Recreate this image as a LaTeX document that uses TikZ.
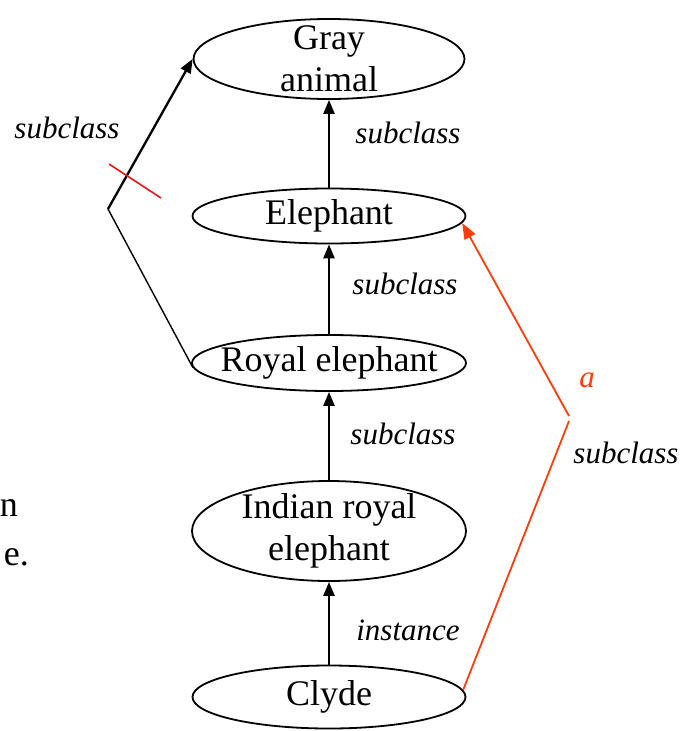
\documentclass[tikz,border=0pt]{standalone}
\usepackage{fontspec}
\setmainfont{Liberation Serif}
\usetikzlibrary{shapes.geometric,arrows.meta}
\definecolor{linkred}{RGB}{255,60,10}
\definecolor{cutred}{RGB}{235,20,20}
\begin{document}
\begin{tikzpicture}[x=1pt,y=-1pt,
  concept/.style={ellipse,draw,line width=1.8pt,inner sep=0pt},
  ctext/.style={align=center,inner sep=0pt,font=\fontsize{36}{42}\selectfont},
  rel/.style={line width=2.3pt,-{Triangle[length=14pt,width=11pt]}},
  redrel/.style={linkred,line width=1.8pt},
  lab/.style={inner sep=0pt,font=\fontsize{31}{36}\selectfont\itshape},
  bodytext/.style={inner sep=0pt,font=\fontsize{36}{42}\selectfont}]
\useasboundingbox (0,0) rectangle (681,731);
\clip (0,0) rectangle (681,731);

% concept ellipses
\node[concept,minimum width=271pt,minimum height=80pt]  (gray)   at (329,59)  {};
\node[concept,minimum width=273pt,minimum height=55pt]  (eleph)  at (329,216) {};
\node[concept,minimum width=274pt,minimum height=56pt]  (royal)  at (329,363) {};
\node[concept,minimum width=274pt,minimum height=100pt] (indian) at (329,531) {};
\node[concept,minimum width=273pt,minimum height=63pt]  (clyde)  at (329,697) {};

% their names
\node[ctext] (grayt)   at (gray)   {Gray\\animal};
\node[ctext] (elepht)  at (eleph)  {Elephant};
\node[ctext] (royalt)  at (royal)  {Royal elephant};
\node[ctext] (indiant) at (indian) {Indian royal\\elephant};
\node[ctext] (clydet)  at (clyde)  {Clyde};

% the chain of links
\draw[rel] (eleph.north)  -- (gray.south);
\draw[rel] (royal.north)  -- (eleph.south);
\draw[rel] (indian.north) -- (royal.south);
\draw[rel] (clyde.north)  -- (indian.south);

\node[lab] (l1) at (408,133) {subclass};
\node[lab] (l2) at (405,284) {subclass};
\node[lab] (l3) at (403,434) {subclass};
\node[lab] (l4) at (408,630) {instance};

% derived link on the left, struck out
\coordinate (lbend) at (108,209);
\draw[line width=1.4pt] (royal.182) -- (lbend);
\draw[rel] (lbend) -- (gray.west);
\coordinate (cutA) at (109,164);
\coordinate (cutB) at (161,198);
\draw[cutred,line width=1.6pt] (cutA) -- (cutB);
\node[lab] (l5) at (67,128) {subclass};

% derived link on the right
\coordinate (rbA) at (569,416);
\coordinate (rbB) at (569,421);
\draw[redrel,-{Triangle[length=16pt,width=12pt]}] (rbA) -- (eleph.-3);
\draw[redrel] (clyde.3) -- (rbB);
\node[lab,text=linkred] (la) at (587,380) {a};
\node[lab] (l6) at (626,453) {subclass};

% running text at the left edge
\node[bodytext,anchor=base east] (t1) at (18,516) {n};
\node[bodytext,anchor=base east] (t2) at (29,565) {e.};
\end{tikzpicture}
\end{document}
